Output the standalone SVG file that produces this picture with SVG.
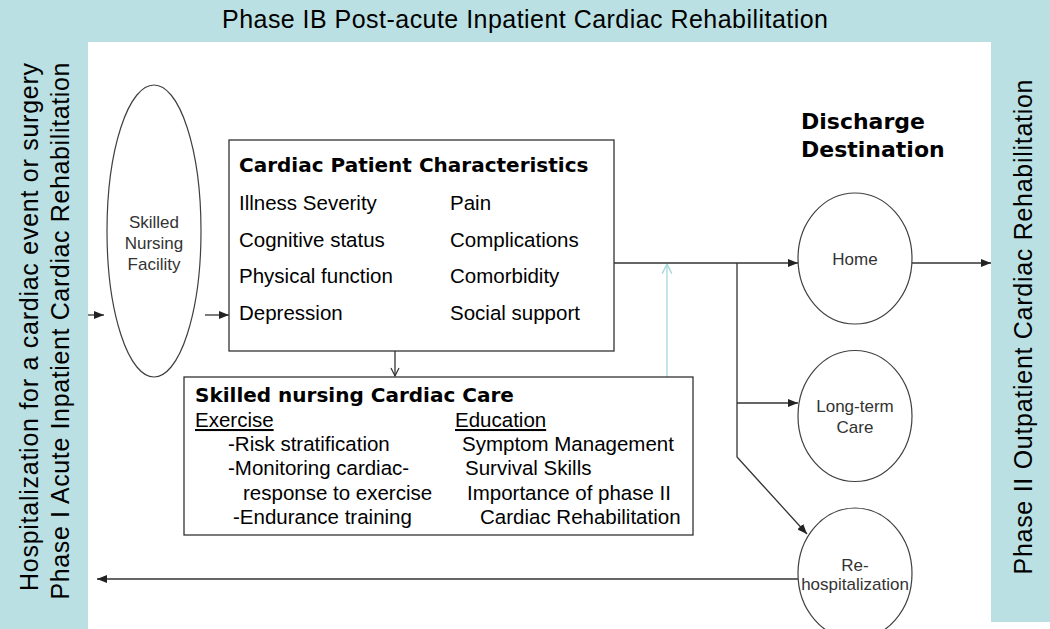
<svg xmlns="http://www.w3.org/2000/svg" width="1050" height="629" viewBox="0 0 1050 629">
<style>
.band{fill:#BBE0E3}
.big{font-family:"Liberation Sans",Arial,sans-serif;font-size:25px;fill:#000}
.body{font-family:"Liberation Sans",Arial,sans-serif;font-size:20.5px;fill:#000}
.bold{font-family:"DejaVu Sans",Verdana,sans-serif;font-weight:bold;font-size:20px;fill:#000}
.lbl{font-family:"Liberation Sans",Arial,sans-serif;font-size:17px;fill:#333;text-anchor:middle}
.box{fill:#fff;stroke:#333;stroke-width:1.3}
.ell{fill:#fff;stroke:#404040;stroke-width:1.2}
.con{fill:none;stroke:#333;stroke-width:1.3}
.u{text-decoration:underline}
</style>
<defs>
<marker id="ah" viewBox="0 0 10 8" refX="10" refY="4" markerWidth="10" markerHeight="8" markerUnits="userSpaceOnUse" orient="auto">
<path d="M0,0 L10,4 L0,8 z" fill="#222"/>
</marker>
<marker id="oa" viewBox="0 0 10 10" refX="9" refY="5" markerWidth="10" markerHeight="10" markerUnits="userSpaceOnUse" orient="auto">
<path d="M1,1 L9,5 L1,9" fill="none" stroke="#333" stroke-width="1.2"/>
</marker>
<marker id="ob" viewBox="0 0 10 10" refX="9" refY="5" markerWidth="12" markerHeight="12" markerUnits="userSpaceOnUse" orient="auto">
<path d="M1,1 L9,5 L1,9" fill="none" stroke="#A8D8DC" stroke-width="1.2"/>
</marker>
</defs>
<g id="background">
<rect x="0" y="0" width="1050" height="629" fill="#fff"/>
<rect class="band" x="0" y="0" width="1050" height="42"/>
<rect class="band" x="0" y="0" width="88" height="629"/>
<rect class="band" x="991" y="0" width="59" height="622"/>
</g>
<g id="title">
<text class="big" x="525" y="28" text-anchor="middle" textLength="606" lengthAdjust="spacing">Phase IB Post-acute Inpatient Cardiac Rehabilitation</text>
</g>
<g id="phase1">
<text class="big" transform="translate(38,327) rotate(-90)" text-anchor="middle" textLength="528" lengthAdjust="spacing">Hospitalization for a cardiac event or surgery</text>
<text class="big" transform="translate(69,331) rotate(-90)" text-anchor="middle" textLength="537" lengthAdjust="spacing">Phase I Acute Inpatient  Cardiac Rehabilitation</text>
</g>
<g id="phase2">
<text class="big" transform="translate(1032,327) rotate(-90)" text-anchor="middle" textLength="495" lengthAdjust="spacing">Phase II Outpatient  Cardiac Rehabilitation</text>
</g>
<g id="connectors">
<line class="con" x1="88" y1="315" x2="104" y2="315" marker-end="url(#ah)"/>
<line class="con" x1="205" y1="315" x2="229" y2="315" marker-end="url(#ah)"/>
<line class="con" x1="395" y1="351" x2="395" y2="376" marker-end="url(#oa)"/>
<line x1="667" y1="377" x2="667" y2="264" fill="none" stroke="#A8D8DC" stroke-width="1.3" marker-end="url(#ob)"/>
<line class="con" x1="614" y1="263" x2="798" y2="263" marker-end="url(#ah)"/>
<polyline class="con" points="737,263 737,457 807,534" marker-end="url(#ah)"/>
<line class="con" x1="737" y1="403" x2="798" y2="403" marker-end="url(#ah)"/>
<line class="con" x1="912" y1="263" x2="991" y2="263" marker-end="url(#ah)"/>
<line class="con" x1="798" y1="579" x2="97" y2="579" marker-end="url(#ah)"/>
</g>
<g id="skilled-nursing-facility">
<ellipse class="ell" cx="154" cy="231" rx="47" ry="146"/>
<text class="lbl" x="154" y="228">Skilled</text>
<text class="lbl" x="154" y="249">Nursing</text>
<text class="lbl" x="154" y="270">Facility</text>
</g>
<g id="patient-characteristics">
<rect class="box" x="229" y="140" width="385" height="211"/>
<text class="bold" x="239" y="172">Cardiac Patient Characteristics</text>
<text class="body" x="239" y="210">Illness Severity</text>
<text class="body" x="239" y="246.5">Cognitive status</text>
<text class="body" x="239" y="283">Physical function</text>
<text class="body" x="239" y="319.5">Depression</text>
<text class="body" x="450" y="210">Pain</text>
<text class="body" x="450" y="246.5">Complications</text>
<text class="body" x="450" y="283">Comorbidity</text>
<text class="body" x="450" y="319.5">Social support</text>
</g>
<g id="cardiac-care">
<rect class="box" x="184" y="377" width="509" height="158"/>
<text class="bold" x="195" y="402">Skilled nursing Cardiac Care</text>
<text class="body u" x="195" y="427">Exercise</text>
<text class="body" x="228" y="451">-Risk stratification</text>
<text class="body" x="228" y="475">-Monitoring cardiac-</text>
<text class="body" x="243" y="500">response to exercise</text>
<text class="body" x="233" y="524">-Endurance training</text>
<text class="body u" x="455" y="427">Education</text>
<text class="body" x="462" y="451">Symptom Management</text>
<text class="body" x="465" y="475">Survival Skills</text>
<text class="body" x="467" y="500">Importance of phase II</text>
<text class="body" x="480" y="524">Cardiac Rehabilitation</text>
</g>
<g id="discharge-destination">
<text class="bold" style="font-size:22px" x="801" y="129">Discharge</text>
<text class="bold" style="font-size:22px" x="801" y="157">Destination</text>
</g>
<g id="home">
<ellipse class="ell" cx="855" cy="258.5" rx="57" ry="65.5"/>
<text class="lbl" x="855" y="265">Home</text>
</g>
<g id="long-term-care">
<ellipse class="ell" cx="855" cy="416" rx="57" ry="65.5"/>
<text class="lbl" x="855" y="412">Long-term</text>
<text class="lbl" x="855" y="433">Care</text>
</g>
<g id="rehospitalization">
<ellipse class="ell" cx="855" cy="573.5" rx="57" ry="65.5"/>
<text class="lbl" x="855" y="571">Re-</text>
<text class="lbl" x="855" y="590">hospitalization</text>
</g>
</svg>
